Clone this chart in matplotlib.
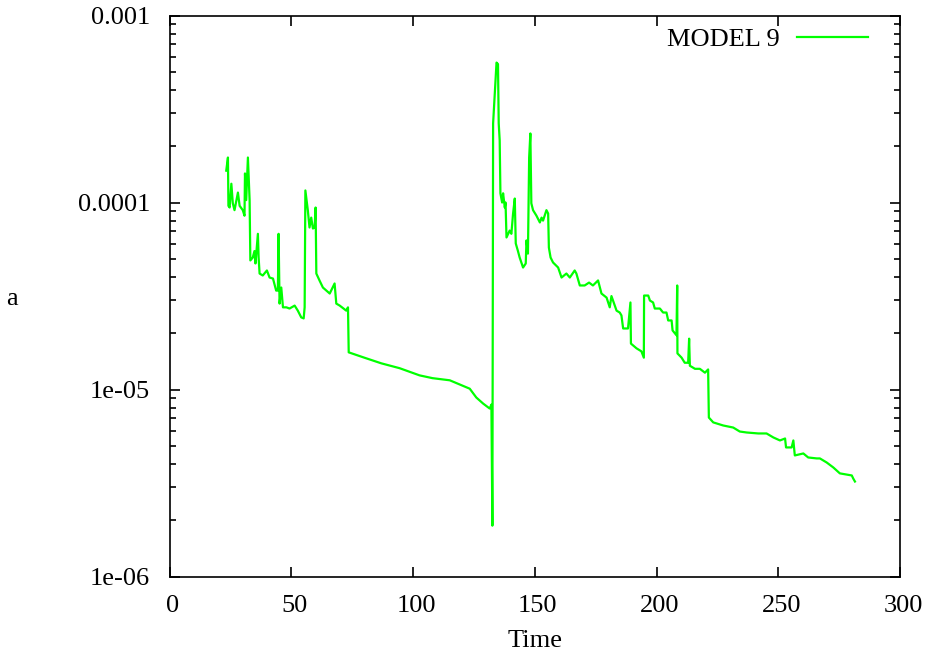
import matplotlib
matplotlib.use("Agg")
import matplotlib.pyplot as plt
import matplotlib.transforms as mtransforms
from matplotlib.ticker import FixedLocator, FixedFormatter, LogLocator, NullFormatter

# ---- data ----
time = [
    23.3, 24.0, 24.2, 24.7, 25.4, 26.0, 26.7, 28.1, 28.8, 30.1,
    30.8, 31.0, 31.5, 32.2, 32.9, 33.2, 34.2, 34.9, 35.3, 36.3,
    36.6, 37.0, 38.3, 40.0, 41.1, 42.5, 43.8, 44.5, 44.8, 45.2,
    45.9, 46.6, 48.0, 49.3, 51.4, 52.7, 54.1, 55.1, 55.5, 55.8,
    56.8, 57.5, 58.2, 58.9, 59.6, 60.0, 60.3, 61.6, 63.0, 65.8,
    67.8, 68.5, 69.9, 72.6, 73.3, 73.6, 80.0, 87.0, 94.5, 102.7,
    108.0, 115.1, 123.3, 126.0, 128.8, 131.5, 132.2, 132.6, 132.9, 133.6,
    134.3, 134.9, 135.2, 135.6, 135.9, 136.6, 137.0, 137.7, 138.0, 138.4,
    139.7, 140.4, 141.1, 141.8, 142.2, 143.1, 143.8, 145.2, 146.3, 146.6,
    147.2, 147.7, 148.2, 148.6, 149.3, 150.7, 152.1, 152.8, 153.4, 154.8,
    155.5, 155.8, 156.5, 157.5, 159.6, 161.0, 163.0, 164.4, 166.4, 167.1,
    168.5, 170.5, 172.3, 173.9, 176.0, 177.4, 179.5, 180.8, 181.5, 183.6,
    184.9, 185.6, 186.3, 188.3, 189.3, 189.5, 191.8, 193.8, 194.8, 194.9,
    196.6, 197.3, 198.6, 199.3, 201.4, 202.7, 204.1, 204.8, 206.2, 206.6,
    208.2, 208.5, 208.6, 210.3, 211.6, 213.0, 213.4, 213.7, 215.8, 217.8,
    219.9, 221.2, 221.5, 223.3, 227.4, 231.5, 234.2, 237.0, 241.8, 245.2,
    248.0, 250.7, 252.8, 253.2, 255.5, 256.2, 256.8, 260.3, 262.3, 265.8,
    267.1, 269.9, 272.6, 274.0, 275.3, 280.2, 280.8, 281.5,
]
model9 = [
    1.48e-4, 1.74e-4, 9.6e-5, 9.4e-5, 1.26e-4, 9.9e-5, 9.1e-5, 1.13e-4, 9.6e-5, 9.1e-5,
    8.5e-5, 1.43e-4, 1.03e-4, 1.74e-4, 1.03e-4, 4.9e-5, 5.08e-5, 5.5e-5, 4.72e-5, 6.8e-5,
    5.08e-5, 4.17e-5, 4.07e-5, 4.33e-5, 3.97e-5, 3.92e-5, 3.38e-5, 3.38e-5, 6.8e-5, 2.88e-5,
    3.51e-5, 2.75e-5, 2.75e-5, 2.71e-5, 2.81e-5, 2.64e-5, 2.43e-5, 2.40e-5, 2.75e-5, 1.16e-4,
    9.1e-5, 7.35e-5, 8.3e-5, 7.26e-5, 7.35e-5, 9.4e-5, 4.17e-5, 3.83e-5, 3.51e-5, 3.26e-5,
    3.69e-5, 2.88e-5, 2.81e-5, 2.64e-5, 2.75e-5, 1.58e-5, 1.48e-5, 1.38e-5, 1.30e-5, 1.19e-5,
    1.15e-5, 1.12e-5, 1.01e-5, 9.06e-6, 8.41e-6, 7.91e-6, 8.3e-6, 1.87e-6, 2.65e-4, 3.83e-4,
    5.6e-4, 5.5e-4, 2.65e-4, 2.15e-4, 1.12e-4, 1.0e-4, 1.12e-4, 9.4e-5, 1.0e-4, 6.5e-5,
    7.08e-5, 6.8e-5, 8.73e-5, 1.05e-4, 6.04e-5, 5.5e-5, 5.08e-5, 4.49e-5, 4.72e-5, 6.27e-5,
    5.33e-5, 1.74e-4, 2.34e-4, 9.9e-5, 9.1e-5, 8.5e-5, 7.82e-5, 8.3e-5, 8.0e-5, 9.1e-5,
    8.73e-5, 5.74e-5, 5.08e-5, 4.78e-5, 4.49e-5, 3.97e-5, 4.17e-5, 3.97e-5, 4.33e-5, 4.17e-5,
    3.60e-5, 3.60e-5, 3.73e-5, 3.60e-5, 3.83e-5, 3.26e-5, 3.10e-5, 2.75e-5, 3.16e-5, 2.64e-5,
    2.58e-5, 2.49e-5, 2.12e-5, 2.12e-5, 2.92e-5, 1.76e-5, 1.66e-5, 1.60e-5, 1.48e-5, 3.18e-5,
    3.18e-5, 2.99e-5, 2.92e-5, 2.71e-5, 2.71e-5, 2.58e-5, 2.58e-5, 2.34e-5, 2.34e-5, 2.07e-5,
    1.95e-5, 3.60e-5, 1.56e-5, 1.48e-5, 1.39e-5, 1.39e-5, 1.87e-5, 1.34e-5, 1.29e-5, 1.29e-5,
    1.23e-5, 1.28e-5, 7.08e-6, 6.67e-6, 6.42e-6, 6.26e-6, 5.96e-6, 5.89e-6, 5.82e-6, 5.82e-6,
    5.54e-6, 5.34e-6, 5.47e-6, 4.90e-6, 4.90e-6, 5.34e-6, 4.44e-6, 4.55e-6, 4.33e-6, 4.28e-6,
    4.28e-6, 4.07e-6, 3.83e-6, 3.69e-6, 3.56e-6, 3.47e-6, 3.34e-6, 3.22e-6,
]
series_label = "MODEL 9"
x_ticks = [0, 50, 100, 150, 200, 250, 300]
y_ticks = [1e-6, 1e-5, 1e-4, 1e-3]
y_tick_labels = ["1e-06", "1e-05", "0.0001", "0.001"]

plt.rcParams["font.family"] = ["Liberation Serif", "DejaVu Serif"]

fig = plt.figure(figsize=(9.28, 6.56), dpi=100)
ax = fig.add_axes([169.5 / 928, (656 - 576.5) / 656, 730.5 / 928, 561 / 656])

ax.plot(time, model9, color="#00ff00", lw=1.6, label=series_label)

ax.set_yscale("log")
ax.set_xlim(0, 300)
ax.set_ylim(1e-6, 1e-3)

ax.xaxis.set_major_locator(FixedLocator(x_ticks))
ax.yaxis.set_major_locator(FixedLocator(y_ticks))
ax.yaxis.set_major_formatter(FixedFormatter(y_tick_labels))
ax.yaxis.set_minor_locator(LogLocator(base=10, subs=range(2, 10), numticks=20))
ax.yaxis.set_minor_formatter(NullFormatter())

ax.tick_params(which="both", direction="in", top=True, right=True, width=1.2, colors="black")
ax.tick_params(which="major", length=7, labelsize=19)
ax.tick_params(which="minor", length=4)
ax.tick_params(axis="x", which="major", pad=13)
ax.tick_params(axis="y", which="major", pad=14)

# gnuplot-like slight rightward offset of x tick labels
shift = mtransforms.ScaledTranslation(3 / 100, 0, fig.dpi_scale_trans)
for lbl in ax.get_xticklabels():
    lbl.set_transform(lbl.get_transform() + shift)

for s in ax.spines.values():
    s.set_linewidth(1.2)

ax.set_xlabel("Time", fontsize=19, labelpad=10)
ax.set_ylabel("a", fontsize=19, rotation=0, va="center", ha="center")
ax.yaxis.set_label_coords(-157.5 / 730.5, 0.495)

ax.legend(loc="center right", bbox_to_anchor=(0.956, 0.957), frameon=False,
          markerfirst=False, fontsize=19, handlelength=2.7, handletextpad=0.65,
          borderpad=0, borderaxespad=0)

fig.savefig("out.png", dpi=100)
